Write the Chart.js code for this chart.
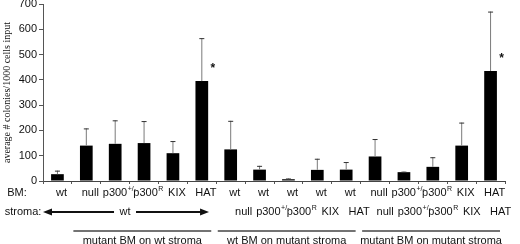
<!DOCTYPE html>
<html>
<head>
<meta charset="utf-8">
<script src="https://cdn.jsdelivr.net/npm/chart.js@4.4.0/dist/chart.umd.min.js"></script>
<style>
  html, body { margin: 0; padding: 0; background: #fff; }
  #wrap { width: 520px; height: 244px; position: relative; }
</style>
</head>
<body>
<div id="wrap"><canvas id="myChart" width="520" height="244"></canvas></div>
<script>
// datos
const bmLabels = ['wt', 'null', 'p300^+/-', 'p300^R', 'KIX', 'HAT', 'wt', 'wt', 'wt', 'wt', 'wt', 'null', 'p300^+/-', 'p300^R', 'KIX', 'HAT'];
const stromaLabels = ['', '', '', '', '', '', 'null', 'p300^+/-', 'p300^R', 'KIX', 'HAT', 'null', 'p300^+/-', 'p300^R', 'KIX', 'HAT'];
const colonies = [27, 140, 147, 150, 110, 395, 125, 45, 7, 44, 45, 97, 35, 56, 140, 435];
const errUp = [14, 68, 93, 87, 48, 170, 113, 15, 3, 44, 30, 69, 2, 38, 91, 235];
const yTicks = [0, 100, 200, 300, 400, 500, 600, 700];
const groupNames = ['mutant BM on wt stroma', 'wt BM on mutant stroma', 'mutant BM on mutant stroma'];
const groupStart = [1, 6, 11];
const groupEnd = [6, 11, 16];
const signif = [5, 15];

const SANS = '"Liberation Sans", Arial, sans-serif';

// texto con superindice: 'p300^R'
function drawSup(ctx, txt, cx, cy, size) {
    const parts = txt.split('^');
    const sup = Math.round(size * 0.62);
    ctx.font = size + 'px ' + SANS;
    const w1 = ctx.measureText(parts[0]).width;
    let w2 = 0;
    if (parts[1]) {
        ctx.font = sup + 'px ' + SANS;
        w2 = ctx.measureText(parts[1]).width;
    }
    const x0 = cx - (w1 + w2) / 2;
    ctx.textAlign = 'left';
    ctx.textBaseline = 'middle';
    ctx.font = size + 'px ' + SANS;
    ctx.fillText(parts[0], x0, cy);
    if (parts[1]) {
        ctx.font = sup + 'px ' + SANS;
        ctx.fillText(parts[1], x0 + w1 + 0.5, cy - size * 0.35);
    }
}

function arrowHead(ctx, x, y, dir) {
    ctx.beginPath();
    ctx.moveTo(x, y);
    ctx.lineTo(x - dir * 9, y - 3.5);
    ctx.lineTo(x - dir * 9, y + 3.5);
    ctx.closePath();
    ctx.fill();
}

const extras = {
    id: 'extras',
    afterDatasetsDraw(chart) {
        const ctx = chart.ctx;
        const y = chart.scales.y;
        const meta = chart.getDatasetMeta(0);
        ctx.save();
        // barras de error (solo hacia arriba)
        meta.data.forEach((bar, i) => {
            const top = y.getPixelForValue(colonies[i] + errUp[i]);
            ctx.strokeStyle = '#7a7a7a';
            ctx.lineWidth = 1;
            ctx.beginPath();
            ctx.moveTo(bar.x, bar.y);
            ctx.lineTo(bar.x, top);
            ctx.stroke();
            ctx.strokeStyle = '#333';
            ctx.beginPath();
            ctx.moveTo(bar.x - 2.5, top + 0.5);
            ctx.lineTo(bar.x + 2.5, top + 0.5);
            ctx.stroke();
        });
        // asteriscos
        ctx.fillStyle = '#111';
        ctx.font = 'bold 12px ' + SANS;
        ctx.textAlign = 'center';
        ctx.textBaseline = 'middle';
        signif.forEach(i => {
            const bar = meta.data[i];
            ctx.fillText('*', bar.x + 11, bar.y - 12);
        });
        ctx.restore();
    },
    afterDraw(chart) {
        const ctx = chart.ctx;
        const x = chart.scales.x;
        const step = x.getPixelForValue(1) - x.getPixelForValue(0);
        const edge = i => x.getPixelForValue(0) - step / 2 + i * step;
        ctx.save();
        ctx.fillStyle = '#111';
        ctx.strokeStyle = '#111';

        // fila BM
        drawSup(ctx, 'BM:', 17, 193, 11);
        bmLabels.forEach((t, i) => drawSup(ctx, t, x.getPixelForValue(i) + 4, 193, 11));

        // fila stroma
        drawSup(ctx, 'stroma:', 23, 212, 11);
        stromaLabels.forEach((t, i) => {
            if (!t) return;
            const off = i < 11 ? 0.45 : 0.35;
            drawSup(ctx, t, x.getPixelForValue(i) + off * step, 212, 11);
        });
        // flecha wt del primer grupo
        const aL = edge(0), aR = edge(5.75);
        const mid = (aL + aR) / 2;
        ctx.lineWidth = 2;
        ctx.beginPath();
        ctx.moveTo(aL + 6, 212); ctx.lineTo(mid - 12, 212);
        ctx.moveTo(mid + 10, 212); ctx.lineTo(aR - 6, 212);
        ctx.stroke();
        arrowHead(ctx, aL, 212, -1);
        arrowHead(ctx, aR, 212, 1);
        drawSup(ctx, 'wt', mid - 1, 212, 11);

        // lineas de grupo
        ctx.strokeStyle = '#444';
        ctx.lineWidth = 1.5;
        groupNames.forEach((name, g) => {
            const l = edge(groupStart[g]) + 1.5;
            const r = edge(groupEnd[g]) - 5;
            ctx.beginPath();
            ctx.moveTo(l, 231);
            ctx.lineTo(r, 231);
            ctx.stroke();
            ctx.font = '11px ' + SANS;
            ctx.textAlign = 'center';
            ctx.textBaseline = 'alphabetic';
            ctx.fillText(name, (l + r) / 2, 244);
        });
        ctx.restore();
    }
};

const ctx = document.getElementById('myChart');
const myChart = new Chart(ctx, {
    type: 'bar',
    data: {
        labels: bmLabels,
        datasets: [{
            data: colonies,
            backgroundColor: '#000',
            borderWidth: 0,
            barPercentage: 1,
            categoryPercentage: 0.44
        }]
    },
    options: {
        responsive: false,
        animation: false,
        devicePixelRatio: 1,
        layout: { padding: { top: 0, right: 15, left: 0, bottom: 0 } },
        plugins: { legend: { display: false }, tooltip: { enabled: false } },
        scales: {
            x: {
                grid: { offset: true, drawOnChartArea: false, tickLength: 3, color: '#555' },
                border: { color: '#444', width: 1 },
                ticks: { display: false },
                afterFit: s => { s.height = 244 - 181; }
            },
            y: {
                min: 0,
                max: 700,
                afterBuildTicks: s => { s.ticks = yTicks.map(v => ({ value: v })); },
                grid: { drawOnChartArea: false, tickLength: 4, color: '#555' },
                border: { color: '#555', width: 1 },
                ticks: { color: '#111', font: { family: SANS, size: 11 }, padding: 2 },
                title: {
                    display: true,
                    text: 'average # colonies/1000 cells input',
                    color: '#111',
                    font: { family: '"Liberation Serif", "Times New Roman", serif', size: 10 },
                    padding: { top: 1, bottom: 0 }
                },
                afterFit: s => { s.width = 43; s.paddingTop = 4; }
            }
        }
    },
    plugins: [extras]
});
</script>
</body>
</html>
